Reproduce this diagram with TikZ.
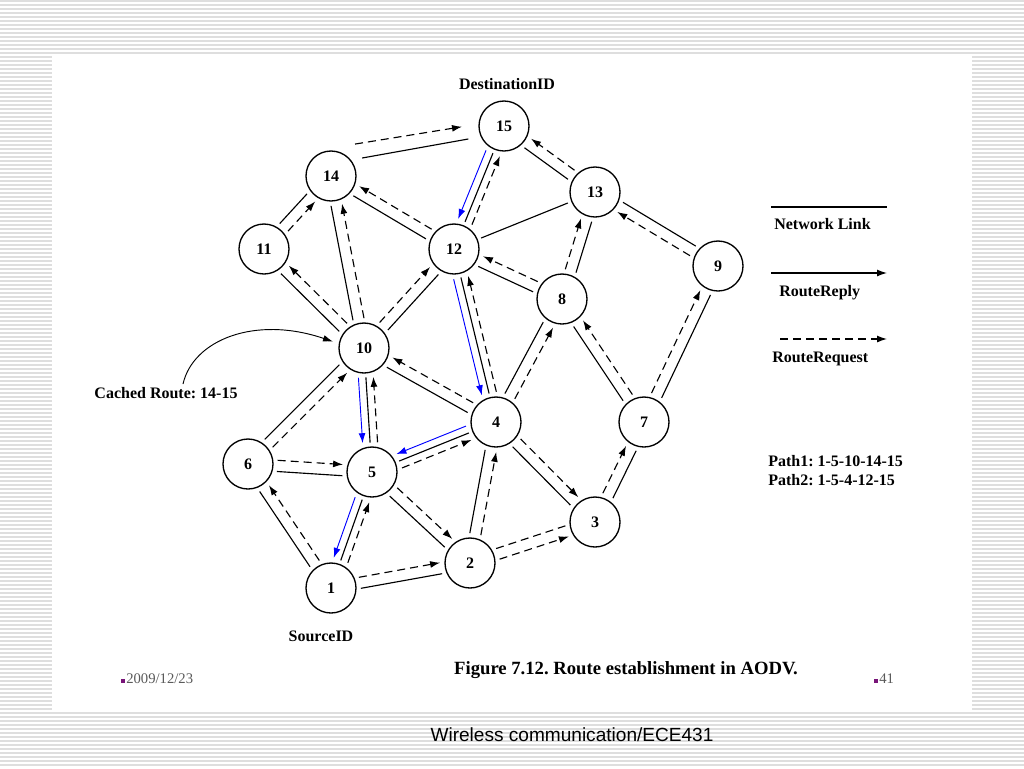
\documentclass[tikz,border=0pt]{standalone}
\usepackage{fontspec}
\setmainfont{Liberation Serif}
\newfontfamily\wsans{Liberation Sans}
\usetikzlibrary{calc,arrows.meta}
\definecolor{stripe}{RGB}{222,222,222}
\definecolor{bul}{RGB}{120,20,120}
\definecolor{dategray}{RGB}{90,90,90}
\tikzset{
  nd/.style={circle,draw,line width=1pt,minimum size=37.5pt,inner sep=0pt,
    font=\fontsize{12}{14}\selectfont\bfseries},
  netln/.style={line width=0.85pt},
  reqln/.style={line width=0.85pt,dash pattern=on 6pt off 3.75pt,
    -{Latex[length=7.5pt,width=5.2pt]}},
  reqnoarrow/.style={line width=0.85pt,dash pattern=on 6pt off 3.75pt},
  repln/.style={line width=0.85pt,-{Latex[length=7.5pt,width=5.2pt]}},
  bluln/.style={line width=0.7pt,blue,-{Latex[length=7.5pt,width=5.2pt]}},
  lbl/.style={inner sep=0pt,font=\fontsize{12}{14}\selectfont\bfseries},
}
\newcommand\offln[4][netln]{\draw[#1] ($(#2)!22pt!(#3)!#4!90:(#3)$) -- ($(#3)!22pt!(#2)!#4!-90:(#2)$);}
% #1 from, #2 to (request direction), #3 dashed offset, #4 solid offset
\newcommand\twoln[4]{\offln[netln]{#1}{#2}{#4}\offln[reqln]{#1}{#2}{#3}}
% request #1 -> #2, reply (blue) #2 -> #1
\newcommand\thrln[2]{\offln[netln]{#1}{#2}{0pt}\offln[reqln]{#1}{#2}{-5.6pt}\offln[bluln]{#2}{#1}{-5.6pt}}
\begin{document}
\frenchspacing
\begin{tikzpicture}[x=0.75pt,y=-0.75pt]
\useasboundingbox (0,0) rectangle (1024,768);
\fill[white] (0,0) rectangle (1024,768);
% background stripes
\foreach \yy in {1,5,...,53} {\draw[stripe,line width=0.9pt] (0,\yy) -- (1024,\yy);}
\foreach \yy in {57,61,...,709} {\draw[stripe,line width=0.9pt] (0,\yy) -- (52,\yy);
  \draw[stripe,line width=0.9pt] (972,\yy) -- (1024,\yy);}
\foreach \yy in {713,717,...,767} {\draw[stripe,line width=0.9pt] (0,\yy) -- (1024,\yy);}

% nodes
\node[nd] (n1) at (331,588) {1};
\node[nd] (n2) at (470,563) {2};
\node[nd] (n3) at (595,522) {3};
\node[nd] (n4) at (496,422) {4};
\node[nd] (n5) at (372,472) {5};
\node[nd] (n6) at (248,464) {6};
\node[nd] (n7) at (644,422) {7};
\node[nd] (n8) at (562,299) {8};
\node[nd] (n9) at (718,266) {9};
\node[nd] (n10) at (364,348) {10};
\node[nd] (n11) at (264,249) {11};
\node[nd] (n12) at (454,249) {12};
\node[nd] (n13) at (595,192) {13};
\node[nd] (n14) at (331,176) {14};
\node[nd] (n15) at (504,126) {15};

% special 14-15
\draw[netln] ($(n14)+(30:27pt)$) -- ($(n15)+(200:28.5pt)$);
\draw[reqln] ($(n14)+(53:30pt)$) -- ($(n15)+(181:31.5pt)$);

% three-line edges
\thrln{n12}{n15}
\thrln{n4}{n12}
\thrln{n5}{n10}
\thrln{n5}{n4}
\thrln{n1}{n5}

% single link
\offln[netln]{n12}{n13}{0pt}

% two-line edges
\twoln{n13}{n15}{-4.2pt}{4.2pt}
\twoln{n11}{n14}{-4.2pt}{4.2pt}
\twoln{n12}{n14}{-4.2pt}{4.2pt}
\twoln{n10}{n14}{-4.2pt}{4.2pt}
\twoln{n10}{n11}{-4.2pt}{4.2pt}
\twoln{n10}{n12}{4.2pt}{-4.2pt}
\twoln{n8}{n12}{-4.2pt}{4.2pt}
\twoln{n8}{n13}{4.2pt}{-4.2pt}
\twoln{n9}{n13}{4.2pt}{-4.2pt}
\twoln{n7}{n9}{4.2pt}{-4.2pt}
\twoln{n4}{n8}{-4.2pt}{4.2pt}
\twoln{n7}{n8}{-4.2pt}{4.2pt}
\twoln{n4}{n10}{-4.2pt}{4.2pt}
\twoln{n6}{n10}{-4.2pt}{4.2pt}
\twoln{n6}{n5}{4.2pt}{-4.2pt}
\twoln{n1}{n6}{-4.2pt}{4.2pt}
\twoln{n5}{n2}{4.2pt}{-4.2pt}
\twoln{n2}{n4}{-4.2pt}{4.2pt}
\twoln{n4}{n3}{4.2pt}{-4.2pt}
\twoln{n1}{n2}{4.2pt}{-4.2pt}
\twoln{n3}{n7}{4.2pt}{-4.2pt}
\offln[reqnoarrow]{n2}{n3}{4.2pt}
\offln[reqln]{n2}{n3}{-4.2pt}

% labels
\node[lbl] (dest) at (507,84) {DestinationID};
\node[lbl] (src) at (321,636) {SourceID};
\node[lbl] (cached) at (166,393) {Cached Route: 14-15};
\coordinate (cstart) at (183,384);
\draw[line width=0.7pt,-{Latex[length=7.5pt,width=5pt]},shorten >=4.5pt]
  (cstart) .. controls (193,340) and (255,315) .. (n10.170);

% legend
\coordinate (la) at (771,207); \coordinate (lb) at (887,207);
\draw[netln] (la) -- (lb);
\node[lbl,anchor=west] (lnet) at (774,224) {Network Link};
\coordinate (lc) at (771,273); \coordinate (ld) at (887,273);
\draw[repln] (lc) -- (ld);
\node[lbl,anchor=west] (lrep) at (779,293) {RouteReply};
\coordinate (le) at (780,339); \coordinate (lf) at (887,339);
\draw[reqln] (le) -- (lf);
\node[lbl,anchor=west] (lreq) at (772,359) {RouteRequest};
\node[lbl,anchor=west] (p1) at (768,461) {Path1: 1-5-10-14-15};
\node[lbl,anchor=west] (p2) at (768,480) {Path2: 1-5-4-12-15};

% caption and footer
\node[inner sep=0pt,font=\fontsize{14}{16}\selectfont\bfseries] (cap) at (626,670) {Figure 7.12. Route establishment in AODV.};
\node[fill=bul,minimum size=2.6pt,inner sep=0pt] (b1) at (123,681) {};
\node[inner sep=0pt,anchor=west,text=dategray,font=\fontsize{11}{13}\selectfont] (date) at (126,679) {2009/12/23};
\node[fill=bul,minimum size=2.6pt,inner sep=0pt] (b2) at (876,681) {};
\node[inner sep=0pt,anchor=west,text=dategray,font=\fontsize{11}{13}\selectfont] (pg) at (879,679) {41};
\node[inner sep=0pt,font=\wsans\fontsize{14.3}{16}\selectfont] (foot) at (572,735) {Wireless communication/ECE431};
\end{tikzpicture}
\end{document}
